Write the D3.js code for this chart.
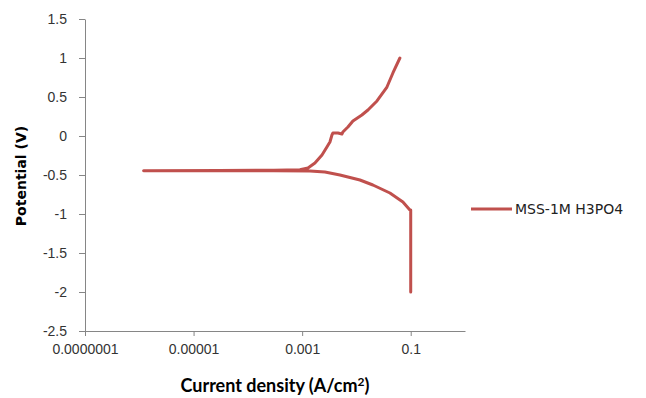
<!DOCTYPE html>
<html>
<head>
<meta charset="utf-8">
<script src="https://cdn.jsdelivr.net/npm/d3@7"></script>
<style>
  body { margin: 0; background: #fff; }
  svg { display: block; font-family: Lato, "Open Sans", sans-serif; }
</style>
</head>
<body>
<div id="chart"></div>
<script>
// series name
var seriesName = "MSS-1M H3PO4";

// current density (A/cm2), cathodic branch then anodic branch
var current = [
  0.1, 0.1, 0.1, 0.0966, 0.0718, 0.0414, 0.0201, 0.0116, 0.00497, 0.00263, 0.00139,
  0.0003, 0.00003, 0.0000012,
  0.00003, 0.0003, 0.00091, 0.00128, 0.00172, 0.00232, 0.00286, 0.00325, 0.00354,
  0.00369, 0.00456, 0.0054, 0.00563, 0.00697, 0.00862, 0.0126, 0.0163, 0.0239,
  0.0365, 0.047, 0.0632
];
// potential (V)
var potential = [
  -2.0, -1.46, -0.95, -0.949, -0.846, -0.731, -0.628, -0.564, -0.5, -0.462, -0.449,
  -0.447, -0.446, -0.445,
  -0.441, -0.439, -0.433, -0.41, -0.346, -0.244, -0.141, -0.077, 0.013,
  0.038, 0.038, 0.026, 0.051, 0.115, 0.192, 0.269, 0.333, 0.449,
  0.628, 0.808, 1.0
];

var xTicks = [1e-7, 1e-5, 1e-3, 1e-1];
var xTickLabels = ["0.0000001", "0.00001", "0.001", "0.1"];
var yTicks = [1.5, 1, 0.5, 0, -0.5, -1, -1.5, -2, -2.5];

var data = current.map(function(c, i) { return {i: c, v: potential[i]}; });

var W = 646, H = 398;
var margin = {top: 19, left: 85, right: 181, bottom: 67};
var width = W - margin.left - margin.right,
    height = H - margin.top - margin.bottom;

var svg = d3.select("#chart").append("svg")
    .attr("width", W)
    .attr("height", H);

var g = svg.append("g")
    .attr("transform", "translate(" + margin.left + "," + margin.top + ")");

var x = d3.scaleLog().domain([1e-7, 1]).range([0, width]);
var y = d3.scaleLinear().domain([-2.5, 1.5]).range([height, 0]);

// axes
var xAxis = g.append("g")
    .attr("transform", "translate(0," + height + ")")
    .call(d3.axisBottom(x).tickValues(xTicks)
        .tickFormat(function(d, i) { return xTickLabels[i]; })
        .tickSize(5).tickPadding(8).tickSizeOuter(0));

var yAxis = g.append("g")
    .call(d3.axisLeft(y).tickValues(yTicks)
        .tickFormat(function(d) { return d; })
        .tickSize(6).tickPadding(12).tickSizeOuter(0));

[xAxis, yAxis].forEach(function(a) {
  a.selectAll("path, line").attr("stroke", "#868686").attr("stroke-width", 1);
  a.selectAll("text").attr("fill", "#333").style("font-size", "14px");
});

// the curve
var line = d3.line()
    .x(function(d) { return x(d.i); })
    .y(function(d) { return y(d.v); })
    .curve(d3.curveLinear);

g.append("path")
    .datum(data)
    .attr("fill", "none")
    .attr("stroke", "#C0504D")
    .attr("stroke-width", 3)
    .attr("stroke-linejoin", "round")
    .attr("stroke-linecap", "round")
    .attr("d", line);

// axis titles
svg.append("text")
    .attr("transform", "translate(26,176) rotate(-90)")
    .attr("text-anchor", "middle")
    .attr("font-weight", "bold")
    .style("font-family", "'DejaVu Sans', sans-serif")
    .style("font-size", "14px")
    .attr("fill", "#000")
    .text("Potential (V)");

var xt = svg.append("text")
    .attr("x", 275)
    .attr("y", 392)
    .attr("text-anchor", "middle")
    .attr("font-weight", "bold")
    .style("font-size", "18px")
    .attr("fill", "#000");
xt.append("tspan").text("Current density (A/cm");
xt.append("tspan").attr("dy", -6).style("font-size", "12px").text("2");
xt.append("tspan").attr("dy", 6).text(")");

// legend
var leg = svg.append("g").attr("transform", "translate(471,209)");
leg.append("line")
    .attr("x1", 0).attr("x2", 41)
    .attr("stroke", "#C0504D")
    .attr("stroke-width", 3);
leg.append("text")
    .attr("x", 44)
    .attr("dy", "0.36em")
    .style("font-family", "'DejaVu Sans', sans-serif")
    .style("font-size", "14px")
    .attr("fill", "#222")
    .text(seriesName);
</script>
</body>
</html>
